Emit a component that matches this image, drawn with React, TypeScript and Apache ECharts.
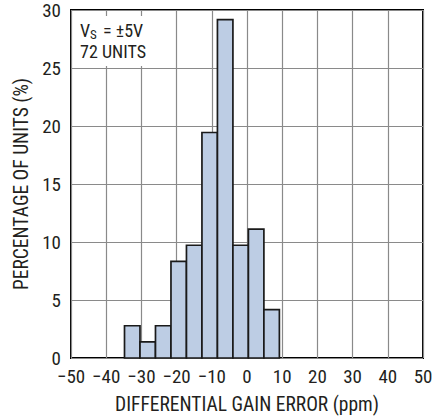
import React, { useEffect, useRef } from "react";
import * as echarts from "echarts";

const binEdges = [-34.8, -30.4, -26.0, -21.6, -17.2, -12.8, -8.4, -4.0, 0.4, 4.8, 9.2];
const percentages = [2.78, 1.39, 2.78, 8.33, 9.72, 19.44, 29.17, 9.72, 11.11, 4.17];
const xTicks = [-50, -40, -30, -20, -10, 0, 10, 20, 30, 40, 50];
const yTicks = [0, 5, 10, 15, 20, 25, 30];

const FONT = "'Liberation Sans Narrow', 'Roboto Condensed', 'Liberation Sans', Arial, sans-serif";
const TXT = "#231f20";
const FS = 19;
const NFS = 19.5;
const AFS = 18;

export default function App() {
  const ref = useRef<HTMLDivElement>(null);
  useEffect(() => {
    if (!ref.current) return;
    const chart = echarts.init(ref.current, undefined, { renderer: "svg" });
    const data = percentages.map((p, i) => [binEdges[i], binEdges[i + 1], p]);
    const txt = (text: string, x: number, y: number, size: number) => ({
      type: "text",
      x,
      y,
      z: 11,
      style: {
        text,
        fill: TXT,
        font: size + "px " + FONT,
        verticalAlign: "middle",
        align: "left",
      },
    });
    chart.setOption({
      animation: false,
      backgroundColor: "#fff",
      textStyle: { fontFamily: FONT },
      grid: {
        left: 71,
        right: 25,
        top: 10,
        bottom: 58,
        show: true,
        borderColor: "#000",
        borderWidth: 2,
        backgroundColor: "transparent",
      },
      xAxis: {
        type: "value",
        min: xTicks[0],
        max: xTicks[xTicks.length - 1],
        interval: 10,
        name: "DIFFERENTIAL GAIN ERROR (ppm)",
        nameLocation: "middle",
        nameGap: 36,
        nameTextStyle: { fontFamily: FONT, fontSize: NFS, color: TXT },
        axisLine: { show: false },
        axisTick: { show: false },
        axisLabel: {
          margin: 9,
          fontFamily: FONT,
          fontSize: FS,
          color: TXT,
          formatter: (v: number) => (v < 0 ? "\u2212" + Math.abs(v) : String(v)),
        },
        splitLine: { show: true, lineStyle: { color: "#8a8a8a", width: 1.2 } },
      },
      yAxis: {
        type: "value",
        min: yTicks[0],
        max: yTicks[yTicks.length - 1],
        interval: 5,
        name: "PERCENTAGE OF UNITS (%)",
        nameLocation: "middle",
        nameGap: 34,
        nameTextStyle: { fontFamily: FONT, fontSize: NFS, color: TXT },
        axisLine: { show: false },
        axisTick: { show: false },
        axisLabel: { margin: 10, fontFamily: FONT, fontSize: FS, color: TXT },
        splitLine: { show: true, lineStyle: { color: "#8a8a8a", width: 1.2 } },
      },
      graphic: [
        {
          type: "rect",
          shape: { x: 73, y: 16, width: 80, height: 50 },
          style: { fill: "#fff" },
          z: 10,
        },
        txt("V", 80, 30.5, AFS),
        txt("S", 90, 34, 13),
        txt("= ±5V", 103, 30.5, AFS),
        txt("72 UNITS", 80, 51, AFS),
      ],
      series: [
        {
          type: "custom",
          data,
          encode: { x: [0, 1], y: 2 },
          renderItem: (params: any, api: any) => {
            const x0 = api.value(0);
            const x1 = api.value(1);
            const y = api.value(2);
            const p0 = api.coord([x0, y]);
            const p1 = api.coord([x1, 0]);
            return {
              type: "rect",
              shape: { x: p0[0], y: p0[1], width: p1[0] - p0[0], height: p1[1] - p0[1] },
              style: { fill: "#bdcde4", stroke: "#1a1a1a", lineWidth: 1.7 },
            };
          },
          z: 5,
        },
      ],
    });
    return () => chart.dispose();
  }, []);
  return (
    <div
      ref={ref}
      style={{ position: "absolute", left: 0, top: 0, width: 448, height: 419 }}
    />
  );
}
